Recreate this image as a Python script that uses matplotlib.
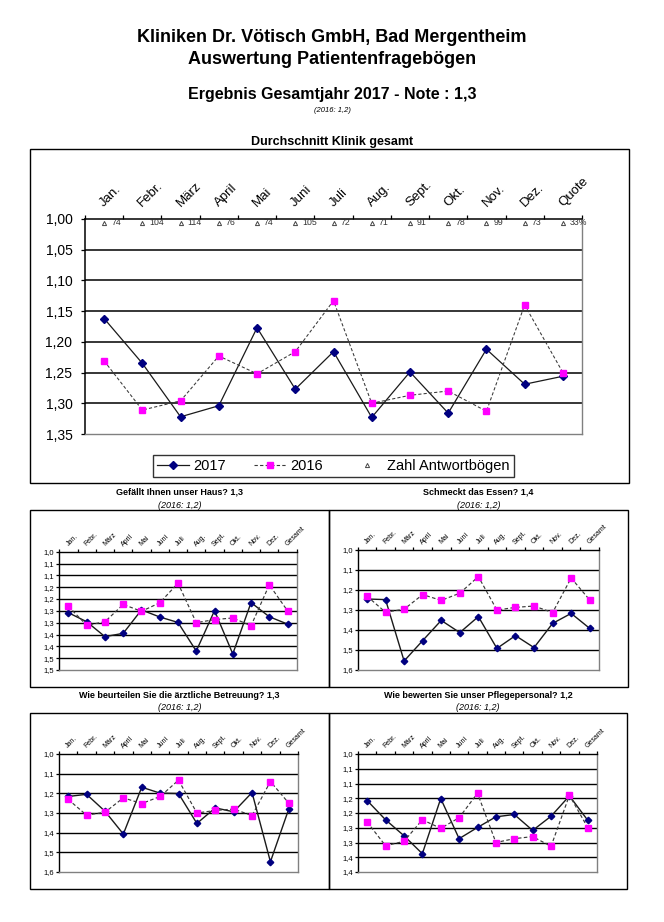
import matplotlib
matplotlib.use('Agg')
import matplotlib.pyplot as plt
import matplotlib.transforms as mtransforms
from matplotlib.patches import Rectangle
from matplotlib.lines import Line2D
import numpy as np

plt.rcParams['font.family'] = ['Liberation Sans', 'DejaVu Sans']

# ---------------- data ----------------
months_main = ["Jan.", "Febr.", "März", "April", "Mai", "Juni", "Juli",
               "Aug.", "Sept.", "Okt.", "Nov.", "Dez.", "Quote"]
months_sub = ["Jan.", "Febr.", "März", "April", "Mai", "Juni", "Juli",
              "Aug.", "Sept.", "Okt.", "Nov.", "Dez.", "Gesamt"]
count_labels = ["74", "104", "114", "76", "74", "105", "72", "71", "91",
                "78", "99", "73", "33%"]

values_2016 = [1.231, 1.311, 1.296, 1.223, 1.252, 1.216, 1.133, 1.300,
               1.287, 1.280, 1.313, 1.140, 1.250]
main_2017 = [1.162, 1.235, 1.322, 1.304, 1.177, 1.277, 1.216, 1.323,
             1.249, 1.316, 1.212, 1.269, 1.256]
haus_2017 = [1.258, 1.296, 1.359, 1.345, 1.246, 1.276, 1.299, 1.420,
             1.249, 1.432, 1.215, 1.275, 1.306]
essen_2017 = [1.245, 1.248, 1.555, 1.453, 1.352, 1.413, 1.333, 1.492,
              1.428, 1.488, 1.367, 1.317, 1.392]
arzt_2017 = [1.216, 1.205, 1.291, 1.407, 1.169, 1.199, 1.201, 1.353,
             1.274, 1.294, 1.196, 1.548, 1.279]
pflege_2017 = [1.158, 1.223, 1.277, 1.338, 1.151, 1.287, 1.249, 1.213,
               1.205, 1.259, 1.211, 1.142, 1.225]

main_yticks = [1.00, 1.05, 1.10, 1.15, 1.20, 1.25, 1.30, 1.35]
main_ylabels = ["1,00", "1,05", "1,10", "1,15", "1,20", "1,25", "1,30", "1,35"]
ticks_05_15 = [1.00, 1.05, 1.10, 1.15, 1.20, 1.25, 1.30, 1.35, 1.40, 1.45, 1.50]
labels_05_15 = ["1,0", "1,1", "1,1", "1,2", "1,2", "1,3", "1,3", "1,4", "1,4", "1,5", "1,5"]
ticks_10_16 = [1.0, 1.1, 1.2, 1.3, 1.4, 1.5, 1.6]
labels_10_16 = ["1,0", "1,1", "1,2", "1,3", "1,4", "1,5", "1,6"]
ticks_05_14 = [1.00, 1.05, 1.10, 1.15, 1.20, 1.25, 1.30, 1.35, 1.40]
labels_05_14 = ["1,0", "1,1", "1,1", "1,2", "1,2", "1,3", "1,3", "1,4", "1,4"]

# ---------------- layout helpers ----------------
W, H = 664, 922
fig = plt.figure(figsize=(W / 100, H / 100), dpi=100)
fig.patch.set_facecolor('white')


def rect(x0, y0, x1, y1):
    return [x0 / W, 1 - y1 / H, (x1 - x0) / W, (y1 - y0) / H]


def frame(x0, y0, x1, y1, lw=1.0):
    fig.add_artist(Rectangle((x0 / W, 1 - y1 / H), (x1 - x0) / W, (y1 - y0) / H,
                             transform=fig.transFigure, fill=False,
                             ec='black', lw=lw, zorder=0))


def ftext(x, y, s, **kw):
    fig.text(x / W, 1 - y / H, s, ha='center', va='center', **kw)


C2017_LINE = '#1a1a1a'
C2017_MARK = '#000080'
C2016_LINE = '#3a3a3a'
C2016_MARK = '#FF00FF'


def style_axes(ax, n, yticks, ylabels, tick_fs, tick_len, pad, months,
               month_fs, month_off_px, gridlw):
    ax.set_xlim(0, n)
    ax.set_ylim(yticks[-1], yticks[0])
    ax.set_yticks(yticks)
    ax.set_yticklabels(ylabels, fontsize=tick_fs)
    ax.set_xticks(np.arange(n + 1))
    ax.set_xticklabels([])
    ax.xaxis.set_ticks_position('top')
    ax.tick_params(axis='x', direction='out', length=tick_len, width=0.9,
                   color='black')
    ax.tick_params(axis='y', direction='out', length=tick_len, width=0.9,
                   pad=pad, color='black')
    for y in yticks[1:-1]:
        ax.axhline(y, color='black', lw=gridlw, zorder=1)
    ax.spines['top'].set_color('black')
    ax.spines['top'].set_linewidth(gridlw)
    ax.spines['left'].set_color('black')
    ax.spines['left'].set_linewidth(gridlw)
    ax.spines['bottom'].set_color('#808080')
    ax.spines['bottom'].set_linewidth(1.0)
    ax.spines['right'].set_color('#808080')
    ax.spines['right'].set_linewidth(1.0)
    trans = mtransforms.offset_copy(ax.get_xaxis_transform(), fig=fig,
                                    x=0, y=month_off_px * 0.72, units='points')
    for i, m in enumerate(months):
        ax.text(i + 0.5, 1.0, m, transform=trans, rotation=45, ha='left',
                va='baseline', rotation_mode='anchor', fontsize=month_fs)


def plot_series(ax, v17, v16, ms_d, ms_s, lw):
    x = np.arange(len(v17)) + 0.5
    ax.plot(x, v17, color=C2017_LINE, lw=lw, marker='D', ms=ms_d,
            mfc=C2017_MARK, mec=C2017_MARK, zorder=4, clip_on=False)
    ax.plot(x, v16, color=C2016_LINE, lw=lw * 0.85, ls=(0, (3, 2)), marker='s',
            ms=ms_s, mfc=C2016_MARK, mec=C2016_MARK, zorder=5, clip_on=False)


# ---------------- titles ----------------
ftext(332, 37, "Kliniken Dr. Vötisch GmbH, Bad Mergentheim", fontsize=13, fontweight='bold')
ftext(332, 59, "Auswertung Patientenfragebögen", fontsize=13, fontweight='bold')
ftext(332, 95, "Ergebnis Gesamtjahr 2017 - Note : 1,3", fontsize=11.5, fontweight='bold')
ftext(332, 110, "(2016: 1,2)", fontsize=5.5, style='italic')
ftext(332, 141.5, "Durchschnitt Klinik gesamt", fontsize=9, fontweight='bold')

# ---------------- main chart ----------------
frame(29.5, 149.5, 629, 483.5)
ax = fig.add_axes(rect(85, 219, 582, 434))
n = len(months_main)
style_axes(ax, n, main_yticks, main_ylabels, 10, 3.0, 6, months_main, 9.5, 12, 1.1)
plot_series(ax, main_2017, values_2016, 4.0, 5.0, 0.9)
xc = np.arange(n) + 0.5
cnt_trans = mtransforms.offset_copy(ax.get_xaxis_transform(), fig=fig, x=0,
                                    y=-3.7 * 0.72, units='points')
ax.plot(xc, np.ones(n), transform=cnt_trans, ls='none', marker='^', ms=3,
        mfc='white', mec='#444444', mew=0.7, clip_on=False, zorder=6)
txt_trans = mtransforms.offset_copy(ax.get_xaxis_transform(), fig=fig,
                                    x=7 * 0.72, y=-3.7 * 0.72, units='points')
for xi, lab in zip(xc, count_labels):
    ax.text(xi, 1.0, lab, transform=txt_trans, fontsize=6.3, ha='left',
            va='center', color='#333333')

handles = [
    Line2D([], [], color=C2017_LINE, lw=0.9, marker='D', ms=4,
           mfc=C2017_MARK, mec=C2017_MARK),
    Line2D([], [], color=C2016_LINE, lw=0.8, ls=(0, (3, 2)), marker='s', ms=5,
           mfc=C2016_MARK, mec=C2016_MARK),
    Line2D([], [], ls='none', marker='^', ms=3, mfc='white', mec='#444444', mew=0.7),
]
leg = fig.legend(handles, ['2017', '2016', 'Zahl Antwortbögen'], loc='center',
                 bbox_to_anchor=((150 + 517) / 2 / W, 1 - 466 / H), ncol=3,
                 frameon=True, fancybox=False, edgecolor='black', fontsize=10.5,
                 handlelength=2.2, handletextpad=0.3, columnspacing=1.9,
                 borderpad=0.3)
leg.get_frame().set_linewidth(1.0)

# ---------------- sub charts ----------------
panels = [
    ("Gefällt Ihnen unser Haus? 1,3", (30, 510, 329, 687), (59.3, 551.7, 296.7, 670),
     haus_2017, ticks_05_15, labels_05_15, 492, 505),
    ("Schmeckt das Essen? 1,4", (329, 510, 628, 687), (357.7, 550, 599, 670),
     essen_2017, ticks_10_16, labels_10_16, 492, 505),
    ("Wie beurteilen Sie die ärztliche Betreuung? 1,3", (30, 713, 329, 889),
     (59, 754, 298, 872), arzt_2017, ticks_10_16, labels_10_16, 695, 707.5),
    ("Wie bewerten Sie unser Pflegepersonal? 1,2", (329, 713, 627, 889),
     (358, 754, 597, 872), pflege_2017, ticks_05_14, labels_05_14, 695, 707.5),
]

for title, fr, pr, v17, yt, yl, ty, sy in panels:
    frame(*fr)
    cx = (fr[0] + fr[2]) / 2
    ftext(cx, ty, title, fontsize=6.5, fontweight='bold')
    ftext(cx, sy, "(2016: 1,2)", fontsize=6.5, style='italic')
    a = fig.add_axes(rect(*pr))
    style_axes(a, len(months_sub), yt, yl, 5.5, 2.0, 1.5, months_sub, 5, 5.5, 1.0)
    plot_series(a, v17, values_2016, 3.3, 4.8, 1.0)

fig.savefig('out.png', dpi=100, facecolor='white')
